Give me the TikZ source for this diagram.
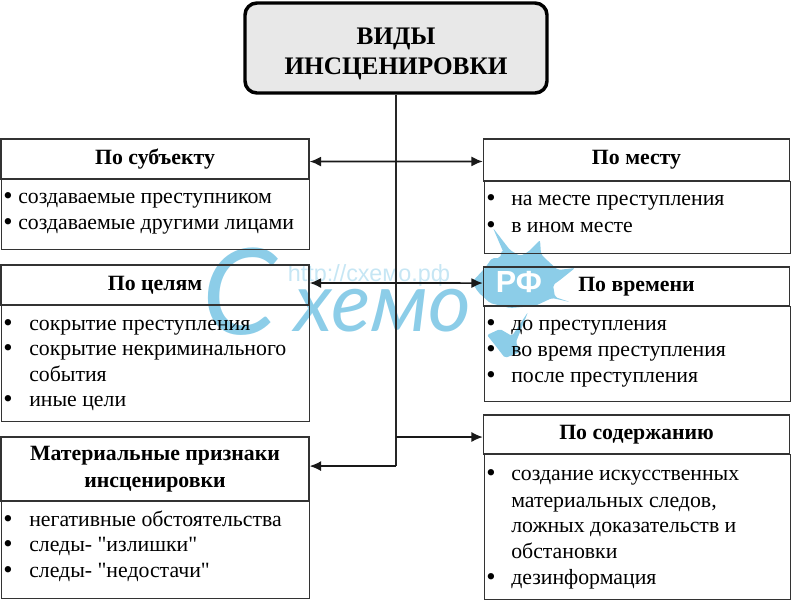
\documentclass[tikz,border=0pt]{standalone}
\usepackage{fontspec}
\setmainfont{Liberation Serif}[Ligatures=TeXOff]
\newfontfamily\markfont{Lato}
\newfontfamily\urlfont{Liberation Sans}
\usetikzlibrary{arrows.meta}
\definecolor{markblue}{RGB}{140,205,232}
\definecolor{titlegray}{RGB}{232,232,232}
\tikzset{
  headbox/.style={draw=black!80,line width=1.1pt,minimum width=231bp,font=\fontsize{16.4}{20}\selectfont\bfseries,align=center,inner sep=0pt},
  listbox/.style={draw=black!80,line width=1.1pt,minimum width=231bp,anchor=north west,inner sep=0pt},
  listline/.style={anchor=base west,inner sep=0pt,yshift=-0.75pt,font=\fontsize{16.4}{19}\selectfont},
  bulline/.style={anchor=base west,inner sep=0pt,yshift=-2pt,font=\fontsize{20}{20}\selectfont},
  trunk/.style={line width=0.9pt,black!85},
  link/.style={line width=1.2pt,black!90,{Latex[length=8.5pt,width=7.5pt]}-{Latex[length=8.5pt,width=7.5pt]}},
  linkone/.style={line width=1pt,black!90,-{Latex[length=8.5pt,width=7.5pt]}},
}
\begin{document}
\begin{tikzpicture}[x=0.75bp,y=-0.75bp]
\useasboundingbox (0,0) rectangle (792,600);
% watermark
\fill[markblue,rounded corners=1.5pt] (472,282) -- (485,268) -- (492,258) -- (500,258) -- (502,250) -- (505,256) -- (493,228) -- (510,250)
  -- (520,256) -- (528,252) -- (540,240) -- (541,254) -- (549,262) -- (558,270) -- (575,268) -- (560,280) -- (553,285)
  -- (555,297) -- (570,302) -- (552,298) -- (535,306) -- (510,308) -- (490,303) -- (478,292) -- cycle;
\fill[markblue,rounded corners=1.5pt] (487,335) -- (500,329) -- (512,336) -- (528,312) -- (516,342) -- (520,352) -- (505,358) -- (495,345) -- cycle;
\node[text=white,font=\urlfont\fontsize{23}{23}\selectfont\bfseries] (rf) at (519,282) {РФ};
\node[text=markblue!50,font=\urlfont\fontsize{17.6}{18}\selectfont] (url) at (369,275) {http://схемо.рф};
\node[text=markblue,font=\markfont\itshape\fontsize{90}{90}\selectfont] (bigc) at (240,292) {С};
\node[text=markblue,font=\markfont\itshape\fontsize{62}{62}\selectfont] (rest) at (383,311) {хемо};
% title
\node[draw=black,line width=2.6pt,rounded corners=9pt,fill=titlegray,minimum width=226.5bp,minimum height=67.5bp,align=center,font=\fontsize{19}{22.5}\selectfont\bfseries] (title) at (396,48) {\rule{0pt}{1.15em}ВИДЫ\\ИНСЦЕНИРОВКИ};
% left column
\node[headbox,minimum height=30bp] (subj) at (155,159) {По субъекту};
\node[listbox,minimum height=52.5bp] (subjlist) at (1,179) {};
\node[headbox,minimum height=30bp] (goal) at (155,285) {По целям};
\node[listbox,minimum height=87bp] (goallist) at (1,305) {};
\node[headbox,minimum height=48bp] (matr) at (155,469) {Материальные признаки\\инсценировки};
\node[listbox,minimum height=72.75bp] (matrlist) at (1,501) {};
% right column
\node[headbox,minimum width=229.5bp,minimum height=31.5bp] (place) at (636.5,160) {По месту};
\node[listbox,minimum width=229.5bp,minimum height=54bp] (placelist) at (483.5,181) {};
\node[headbox,minimum width=229.5bp,minimum height=29.25bp] (time) at (636.5,286.5) {По времени};
\node[listbox,minimum width=229.5bp,minimum height=71.25bp] (timelist) at (483.5,306) {};
\node[headbox,minimum width=229.5bp,minimum height=29.25bp] (cont) at (636.5,434.5) {По содержанию};
\node[listbox,minimum width=229.5bp,minimum height=108.75bp] (contlist) at (483.5,454) {};
% list lines
\foreach \y/\t in {202/создаваемые преступником,228/создаваемые другими лицами}
  {\node[listline] at (18,\y) {\t}; \node[bulline] at (3,\y) {•};}
\foreach \y/\t in {329/сокрытие преступления,354/сокрытие некриминального,405/иные цели}
  {\node[listline] at (29,\y) {\t}; \node[bulline] at (3,\y) {•};}
\node[listline] at (29,380) {события};
\foreach \y/\t in {525/негативные обстоятельства,550/следы- "излишки",576/следы- "недостачи"}
  {\node[listline] at (29,\y) {\t}; \node[bulline] at (3,\y) {•};}
\foreach \y/\t in {204/на месте преступления,231/в ином месте}
  {\node[listline] at (511,\y) {\t}; \node[bulline] at (486,\y) {•};}
\foreach \y/\t in {329/до преступления,355/во время преступления,381/после преступления}
  {\node[listline] at (511,\y) {\t}; \node[bulline] at (486,\y) {•};}
\foreach \y/\t in {479/создание искусственных,583/дезинформация}
  {\node[listline] at (511,\y) {\t}; \node[bulline] at (486,\y) {•};}
\foreach \y/\t in {506/{материальных следов,},531/ложных доказательств и,557/обстановки}
  {\node[listline] at (511,\y) {\t};}
% links
\coordinate (matrtip) at ([yshift=2.2pt]matr.east);
\coordinate (conttip) at ([yshift=-1.9pt]cont.west);
\draw[trunk] (title.south) -- (title.south |- matrtip);
\draw[link] ([yshift=-1.9pt]subj.east) -- ([yshift=-1.1pt]place.west);
\draw[link] ([yshift=1.5pt]goal.east) -- ([yshift=2.6pt]time.west);
\draw[linkone] (title.south |- conttip) -- (conttip);
\draw[linkone] (title.south |- matrtip) -- (matrtip);
\end{tikzpicture}
\end{document}
